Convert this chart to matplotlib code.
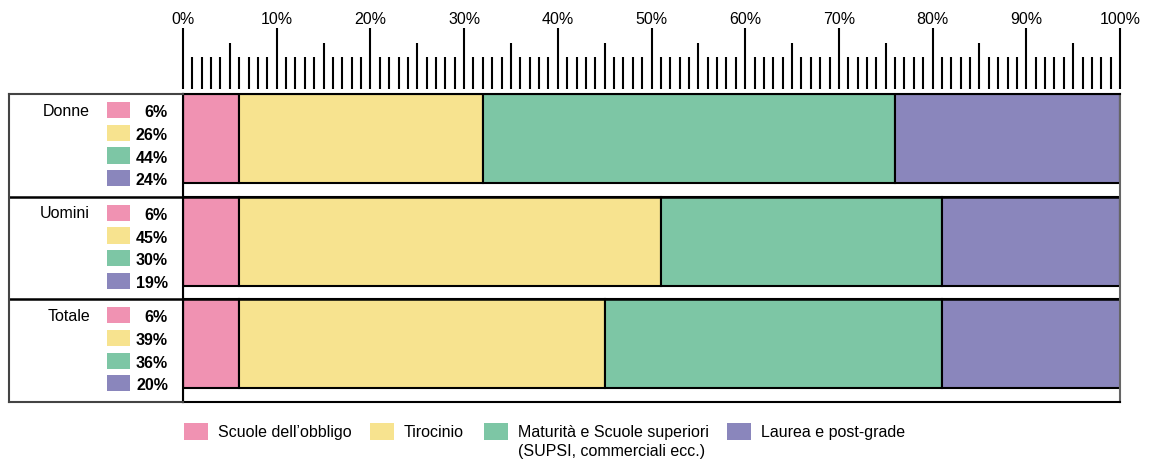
import matplotlib
matplotlib.use('Agg')
import matplotlib.pyplot as plt
from matplotlib.patches import Rectangle
from matplotlib.ticker import MultipleLocator, FixedLocator, FuncFormatter

plt.rcParams['font.family'] = ['Liberation Sans', 'DejaVu Sans']

# shares by education level (%)
groups = ['Donne', 'Uomini', 'Totale']
categories = ['Scuole dell\u2019obbligo', 'Tirocinio',
              'Maturit\u00e0 e Scuole superiori\n(SUPSI, commerciali ecc.)',
              'Laurea e post-grade']
donne = [6, 26, 44, 24]
uomini = [6, 45, 30, 19]
totale = [6, 39, 36, 20]
colors = ['#F092B2', '#F7E38F', '#7DC6A5', '#8A86BC']

values = [donne, uomini, totale]

W, H = 1153, 460
fig = plt.figure(figsize=(W / 100, H / 100), dpi=100)


def px_box(x0, y0, x1, y1):
    # pixel box (top-left origin) -> figure fraction rect
    return [x0 / W, 1 - y1 / H, (x1 - x0) / W, (y1 - y0) / H]


bar_h = 0.867
fs = 11.5

# main bar area
ax = fig.add_axes(px_box(183, 95, 1120, 403))
for i, row in enumerate(values):
    left = 0
    for v, c in zip(row, colors):
        ax.barh(i, v, left=left, height=bar_h, align='edge', color=c,
                edgecolor='black', linewidth=1.5)
        left += v
ax.set_xlim(0, 100)
ax.set_ylim(3, 0)
ax.set_xticks([])
ax.set_yticks([])
for s in ax.spines.values():
    s.set_linewidth(1.5)
    s.set_color('black')
ax.spines['right'].set_color('#666666')
for y in [1, 2]:
    ax.axhline(y, color='black', lw=1.8)

# left column with group names and small swatches
axl = fig.add_axes(px_box(9, 95, 183, 403))
axl.set_xlim(0, 174)
axl.set_ylim(3, 0)
axl.set_xticks([])
axl.set_yticks([])
for s in axl.spines.values():
    s.set_linewidth(1.5)
    s.set_color('#444444')
axl.spines['right'].set_color('black')
for y in [1, 2]:
    axl.axhline(y, color='black', lw=1.8)

offsets = [0.156, 0.378, 0.6, 0.818]
sw_h = 0.158
for i, (g, row) in enumerate(zip(groups, values)):
    axl.text(81, i + offsets[0], g, ha='right', va='center', fontsize=fs)
    for off, v, c in zip(offsets, row, colors):
        axl.add_patch(Rectangle((98, i + off - sw_h / 2), 23, sw_h,
                                facecolor=c, edgecolor='none'))
        axl.text(159, i + off + 0.015, '{}%'.format(v), ha='right', va='center',
                 fontsize=fs, fontweight='bold')

# percentage scale on top
axt = fig.add_axes([183 / W, 1 - 90 / H, 937 / W, 0.0001])
axt.set_xlim(0, 100)
axt.set_yticks([])
for s in axt.spines.values():
    s.set_visible(False)
axt.xaxis.tick_top()
axt.xaxis.set_major_locator(MultipleLocator(10))
axt.xaxis.set_major_formatter(FuncFormatter(lambda x, p: '{:d}%'.format(int(round(x)))))
axt.xaxis.set_minor_locator(FixedLocator([x for x in range(101) if x % 5 != 0]))
axt.tick_params(axis='x', which='major', length=44, width=1.5, pad=1,
                labelsize=fs, direction='out')
axt.tick_params(axis='x', which='minor', length=23, width=1.5, direction='out')
sec = axt.secondary_xaxis('top')
sec.set_xticks(range(5, 100, 10))
sec.set_xticklabels([])
sec.tick_params(length=33, width=1.5)
sec.spines['top'].set_visible(False)

# legend under the chart
leg_x = [184, 370, 484, 727]
for x, c, lab in zip(leg_x, colors, categories):
    fig.patches.append(Rectangle((x / W, 1 - 441 / H), 24 / W, 17 / H,
                                 facecolor=c, edgecolor='none',
                                 transform=fig.transFigure, figure=fig))
    fig.text((x + 34) / W, 1 - 425 / H, lab, ha='left', va='top',
             fontsize=fs, linespacing=1.3)

fig.savefig('out.png', dpi=100)
